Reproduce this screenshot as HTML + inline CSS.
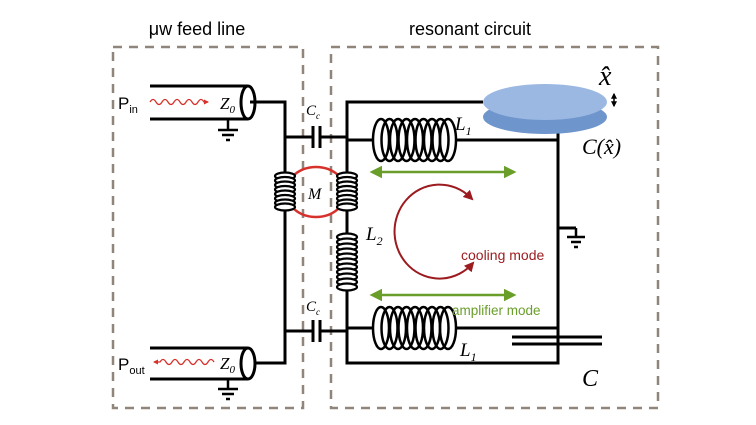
<!DOCTYPE html>
<html><head><meta charset="utf-8"><style>
html,body{margin:0;padding:0;background:#fff;}
svg{display:block;}
.t{font-family:"Liberation Sans",sans-serif;}
.m{font-family:"Liberation Serif",serif;font-style:italic;}
</style></head><body>
<svg width="756" height="425" viewBox="0 0 756 425" xmlns="http://www.w3.org/2000/svg">
<defs>
<marker id="ga" viewBox="0 0 10 10" refX="8" refY="5" markerWidth="5" markerHeight="5" orient="auto-start-reverse"><path d="M0,0 L10,5 L0,10 z" fill="#6a9e2a"/></marker>
<marker id="ra" viewBox="0 0 10 10" refX="8" refY="5" markerWidth="5" markerHeight="5" orient="auto"><path d="M0,0 L10,5 L0,10 z" fill="#9b1b1f"/></marker>
<marker id="pa" viewBox="0 0 10 10" refX="8" refY="5" markerWidth="4" markerHeight="4" orient="auto"><path d="M0,0 L10,5 L0,10 z" fill="#d6312a"/></marker>
<marker id="ba" viewBox="0 0 10 10" refX="8" refY="5" markerWidth="4" markerHeight="4" orient="auto-start-reverse"><path d="M0,0 L10,5 L0,10 z" fill="#000"/></marker>
</defs>
<g fill="none" stroke="#8f857b" stroke-width="2.5" stroke-dasharray="9,7">
<rect x="113" y="47" width="190" height="361"/>
<rect x="331" y="47" width="327" height="361"/>
</g>
<text class="t" x="197" y="35" font-size="18" text-anchor="middle">μw feed line</text>
<text class="t" x="470" y="35" font-size="18" text-anchor="middle">resonant circuit</text>

<!-- M ellipse (behind coils) -->
<ellipse cx="316" cy="192" rx="30" ry="25" fill="none" stroke="#d6312a" stroke-width="2.5"/>

<g stroke="#000" stroke-width="3" fill="none">
<line x1="150" y1="86" x2="248" y2="86"/><line x1="150" y1="119" x2="248" y2="119"/>
<ellipse cx="248" cy="102.5" rx="7" ry="16.5" fill="#fff"/>
<polyline points="250,102 285,102 285,363 250,363"/>
<line x1="150" y1="348" x2="248" y2="348"/><line x1="150" y1="379" x2="248" y2="379"/>
<ellipse cx="248" cy="363.5" rx="7" ry="15.5" fill="#fff"/>
<line x1="285" y1="137" x2="313" y2="137"/><line x1="320" y1="137" x2="347" y2="137"/>
<line x1="285" y1="331" x2="313" y2="331"/><line x1="320" y1="331" x2="347" y2="331"/>
<line x1="313" y1="126" x2="313" y2="148"/><line x1="320" y1="126" x2="320" y2="148"/>
<line x1="313" y1="320" x2="313" y2="342"/><line x1="320" y1="320" x2="320" y2="342"/>
<polyline points="483,102 347,102 347,363 558,363 558,133"/>
<line x1="347" y1="140" x2="373" y2="140"/><line x1="455" y1="140" x2="558" y2="140"/>
<line x1="347" y1="328" x2="373" y2="328"/><line x1="455" y1="328" x2="558" y2="328"/>
<line x1="558" y1="228" x2="576" y2="228"/>
</g>
<g stroke="#000" stroke-width="2.5">
<line x1="228" y1="119" x2="228" y2="130"/><line x1="218" y1="130" x2="238" y2="130"/><line x1="222" y1="135" x2="234" y2="135"/><line x1="226" y1="140" x2="230" y2="140"/>
<line x1="228" y1="379" x2="228" y2="389"/><line x1="218" y1="389" x2="238" y2="389"/><line x1="222" y1="394" x2="234" y2="394"/><line x1="226" y1="399" x2="230" y2="399"/>
<line x1="576" y1="228" x2="576" y2="237"/><line x1="567" y1="237" x2="585" y2="237"/><line x1="571" y1="242" x2="581" y2="242"/><line x1="574" y1="247" x2="578" y2="247"/>
</g>
<g stroke="#000" stroke-width="3"><line x1="512" y1="337" x2="602" y2="337"/><line x1="512" y1="344" x2="602" y2="344"/></g>
<g stroke="#000" stroke-width="2.5" fill="none">
<g id="hc">
<ellipse cx="381" cy="140" rx="8" ry="21"/><ellipse cx="389.5" cy="140" rx="8" ry="21"/><ellipse cx="398" cy="140" rx="8" ry="21"/><ellipse cx="406.5" cy="140" rx="8" ry="21"/><ellipse cx="415" cy="140" rx="8" ry="21"/><ellipse cx="423.5" cy="140" rx="8" ry="21"/><ellipse cx="432" cy="140" rx="8" ry="21"/><ellipse cx="440.5" cy="140" rx="8" ry="21"/><ellipse cx="448" cy="140" rx="8" ry="21"/>
</g>
<use href="#hc" y="188"/>
</g>
<g stroke="#000" stroke-width="2.2" fill="#fff">
<g id="vc">
<ellipse cx="285" cy="176" rx="10" ry="3.5"/><ellipse cx="285" cy="180.5" rx="10" ry="3.5"/><ellipse cx="285" cy="185" rx="10" ry="3.5"/><ellipse cx="285" cy="189.5" rx="10" ry="3.5"/><ellipse cx="285" cy="194" rx="10" ry="3.5"/><ellipse cx="285" cy="198.5" rx="10" ry="3.5"/><ellipse cx="285" cy="203" rx="10" ry="3.5"/><ellipse cx="285" cy="207" rx="10" ry="3.5"/>
</g>
<use href="#vc" x="62"/>
<ellipse cx="347" cy="237" rx="10" ry="3.5"/><ellipse cx="347" cy="242" rx="10" ry="3.5"/><ellipse cx="347" cy="247" rx="10" ry="3.5"/><ellipse cx="347" cy="252" rx="10" ry="3.5"/><ellipse cx="347" cy="257" rx="10" ry="3.5"/><ellipse cx="347" cy="262" rx="10" ry="3.5"/><ellipse cx="347" cy="267" rx="10" ry="3.5"/><ellipse cx="347" cy="272" rx="10" ry="3.5"/><ellipse cx="347" cy="277" rx="10" ry="3.5"/><ellipse cx="347" cy="282" rx="10" ry="3.5"/><ellipse cx="347" cy="287" rx="10" ry="3.5"/>
</g>
<ellipse cx="545" cy="117" rx="62" ry="17" fill="#6e95cc"/>
<ellipse cx="545" cy="102" rx="62" ry="18" fill="#9bb8e2"/>
<line x1="372" y1="172" x2="514" y2="172" stroke="#6a9e2a" stroke-width="2.5" marker-start="url(#ga)" marker-end="url(#ga)"/>
<line x1="372" y1="295" x2="514" y2="295" stroke="#6a9e2a" stroke-width="2.5" marker-start="url(#ga)" marker-end="url(#ga)"/>
<path d="M470,197 A45,47 0 1 0 473,263" fill="none" stroke="#9b1b1f" stroke-width="2" marker-end="url(#ra)"/>
<path d="M470,197 L472,199" stroke="#9b1b1f" stroke-width="2" marker-end="url(#ra)"/>
<line x1="614" y1="94" x2="614" y2="106" stroke="#000" stroke-width="1.5" marker-start="url(#ba)" marker-end="url(#ba)"/>
<path d="M150,102 q3,-5 6,0 t6,0 t6,0 t6,0 t6,0 t6,0 t6,0 t6,0 t6,0 l4,0" fill="none" stroke="#d6312a" stroke-width="1.3" marker-end="url(#pa)"/>
<path d="M214,362 q-3,-5 -6,0 t-6,0 t-6,0 t-6,0 t-6,0 t-6,0 t-6,0 t-6,0 t-6,0 l-6,0" fill="none" stroke="#d6312a" stroke-width="1.3" marker-end="url(#pa)"/>
<text class="t" x="118" y="109" font-size="17">P<tspan font-size="11" dy="4">in</tspan></text>
<text class="t" x="118" y="370" font-size="17">P<tspan font-size="11" dy="4">out</tspan></text>
<text class="m" x="220" y="109" font-size="17">Z<tspan font-size="11" dy="4">0</tspan></text>
<text class="m" x="220" y="369" font-size="17">Z<tspan font-size="11" dy="4">0</tspan></text>
<text class="m" x="306" y="115" font-size="15">C<tspan font-size="9" dy="4">c</tspan></text>
<text class="m" x="306" y="311" font-size="15">C<tspan font-size="9" dy="4">c</tspan></text>
<text class="m" x="308" y="199" font-size="16">M</text>
<text class="m" x="366" y="240" font-size="19">L<tspan font-size="12" dy="5">2</tspan></text>
<text class="m" x="455" y="130" font-size="19">L<tspan font-size="12" dy="5">1</tspan></text>
<text class="m" x="460" y="356" font-size="19">L<tspan font-size="12" dy="5">1</tspan></text>
<text class="m" x="582" y="386" font-size="24">C</text>
<text class="m" x="582" y="154" font-size="22">C(x̂)</text>
<text class="m" x="599" y="85" font-size="28">x̂</text>
<text class="t" x="461" y="260" font-size="14" fill="#9b1b1f">cooling mode</text>
<text class="t" x="452" y="315" font-size="13.5" fill="#6a9e2a">amplifier mode</text>
</svg>
</body></html>
